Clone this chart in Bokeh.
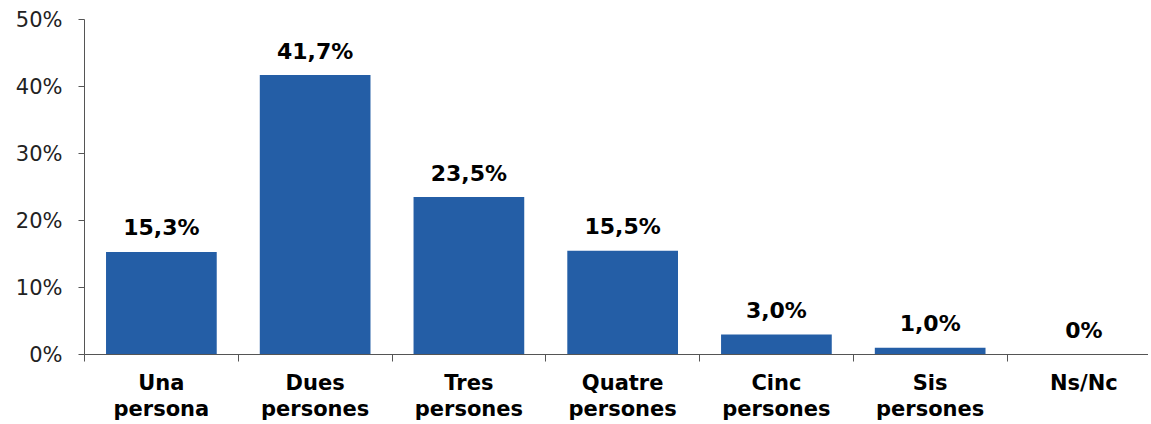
from bokeh.plotting import figure
from bokeh.models import Range1d, FixedTicker, ColumnDataSource
from bokeh.core.properties import value
from bokeh.embed import file_html
from bokeh.resources import INLINE

categories = ["Una\npersona", "Dues\npersones", "Tres\npersones", "Quatre\npersones",
              "Cinc\npersones", "Sis\npersones", "Ns/Nc"]
values = [15.3, 41.7, 23.5, 15.5, 3.0, 1.0, 0.0]
value_labels = ["15,3%", "41,7%", "23,5%", "15,5%", "3,0%", "1,0%", "0%"]
y_ticks = [0, 10, 20, 30, 40, 50]
y_tick_labels = ["0%", "10%", "20%", "30%", "40%", "50%"]

FONT = "DejaVu Sans"
BAR = "#245ea6"
AXIS = "#555555"

xs = [i + 0.5 for i in range(len(categories))]
src = ColumnDataSource(dict(x=xs, top=values, lab=value_labels))

p = figure(frame_width=1064, frame_height=335, output_backend="svg",
           toolbar_location=None, x_range=Range1d(0, 6.92), y_range=Range1d(0, 50),
           min_border_left=84, min_border_top=19, min_border_right=0, min_border_bottom=0)
p.outline_line_color = None
p.xgrid.visible = False
p.ygrid.visible = False

p.vbar(x="x", top="top", bottom=0, width=0.72, source=src, fill_color=BAR,
       line_color=None)
p.text(x="x", y="top", text="lab", source=src, text_align="center",
       text_baseline="alphabetic", y_offset=-24, text_font=value(FONT),
       text_font_style="bold", text_font_size="22px", text_color="#000000")

# y axis
ya = p.yaxis[0]
ya.ticker = FixedTicker(ticks=y_ticks)
ya.major_label_overrides = {t: l for t, l in zip(y_ticks, y_tick_labels)}
ya.major_label_text_font = FONT
ya.major_label_text_font_size = "21px"
ya.major_label_text_color = "#222222"
ya.major_tick_out = 6
ya.major_tick_in = 0
ya.minor_tick_line_color = None
ya.major_label_standoff = 16
ya.axis_line_color = AXIS
ya.major_tick_line_color = AXIS

# x axis
xa = p.xaxis[0]
xa.ticker = FixedTicker(ticks=xs, minor_ticks=list(range(len(categories) + 1)))
xa.major_label_overrides = {x: c for x, c in zip(xs, categories)}
xa.major_label_text_font = FONT
xa.major_label_text_font_size = "21px"
xa.major_label_text_font_style = "bold"
xa.major_label_text_line_height = 1.1
xa.major_label_text_color = "#000000"
xa.major_tick_out = 0
xa.major_tick_in = 0
xa.minor_tick_out = 7
xa.minor_tick_in = 0
xa.minor_tick_line_color = AXIS
xa.major_label_standoff = 9
xa.axis_line_color = AXIS

open("out.html", "w").write(file_html(p, INLINE))
